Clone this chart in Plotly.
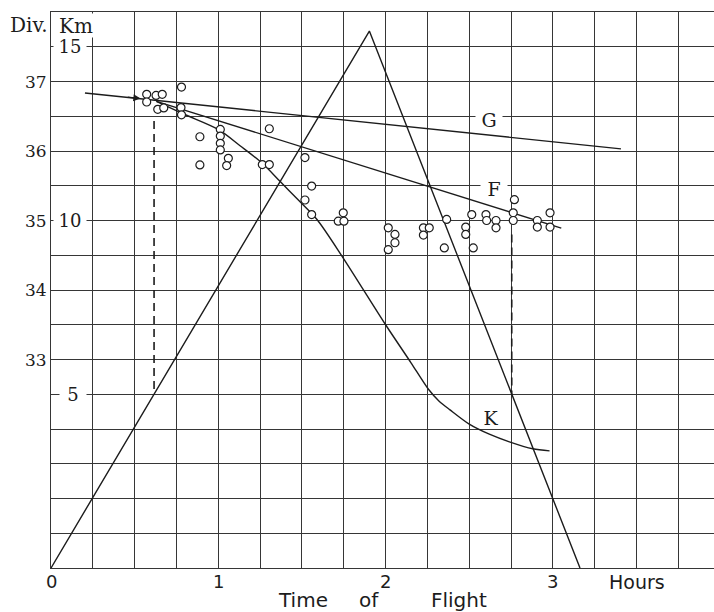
import plotly.graph_objects as go

# --- data -------------------------------------------------------------
# observed balloon readings: time of flight (hours) vs height (km)
obs_hours = [0.572, 0.572, 0.628, 0.665, 0.638, 0.674, 0.78, 0.777, 0.78, 0.89,
             0.89, 1.012, 1.012, 1.012, 1.012, 1.06, 1.05, 1.263, 1.305, 1.305,
             1.518, 1.558, 1.518, 1.558, 1.747, 1.717, 1.751, 2.016, 2.056, 2.056,
             2.016, 2.226, 2.261, 2.226, 2.365, 2.351, 2.479, 2.479, 2.524, 2.515,
             2.60, 2.604, 2.66, 2.66, 2.77, 2.763, 2.763, 2.907, 2.907, 2.983, 2.983]
obs_km = [13.63, 13.41, 13.60, 13.63, 13.20, 13.24, 13.84, 13.25, 13.04, 12.41,
          11.60, 12.62, 12.43, 12.22, 12.03, 11.79, 11.58, 11.61, 12.64, 11.61,
          11.81, 10.99, 10.59, 10.17, 10.22, 9.98, 9.98, 9.79, 9.60, 9.36,
          9.16, 9.79, 9.79, 9.58, 10.03, 9.21, 9.81, 9.60, 9.21, 10.17,
          10.17, 10.00, 10.00, 9.79, 10.60, 10.22, 10.00, 10.00, 9.81, 10.22, 9.81]

# ascent / descent of the balloon
flight_hours = [0.0, 1.903, 3.162]
flight_km = [0.0, 15.45, 0.0]

# curve G
g_hours = [0.203, 3.407]
g_km = [13.67, 12.06]

# curve F
f_hours = [0.63, 3.05]
f_km = [13.43, 9.78]

# curve K
k_hours = [0.63, 0.80, 1.00, 1.13, 1.26, 1.37, 1.48, 1.59, 1.74, 2.00, 2.15,
           2.255, 2.32, 2.385, 2.50, 2.62, 2.74, 2.88, 2.98]
k_km = [13.43, 13.05, 12.62, 12.15, 11.66, 11.12, 10.58, 10.03, 8.97, 7.00, 5.92,
        5.15, 4.80, 4.55, 4.14, 3.85, 3.63, 3.43, 3.37]

# dashed drop lines to the 5 km level
drop1_hours = [0.616, 0.616]
drop1_km = [12.86, 5.0]
drop2_hours = [2.754, 2.754]
drop2_km = [9.60, 5.0]

# axis labels
div_labels = [33, 34, 35, 36, 37]     # barometer divisions
km_labels = [5, 10, 15]
hour_labels = [0, 1, 2, 3]

INK = "#1c1c1c"
GRID = "#363636"
SERIF = "DejaVu Serif"
SANS = "DejaVu Sans"

X_MAX = 3.963
Y_MAX = 16.0


def div_to_km(d):
    # 35 divisions sits at 10 km; one division spans 2 km
    return 10 + 2 * (d - 35)


def hour_to_paper(h):
    return h / X_MAX


fig = go.Figure()

line_style = dict(color=INK, width=1.4)
for xs, ys in [(flight_hours, flight_km), (g_hours, g_km), (f_hours, f_km)]:
    fig.add_trace(go.Scatter(x=xs, y=ys, mode="lines", line=line_style,
                             hoverinfo="skip", showlegend=False))

fig.add_trace(go.Scatter(x=k_hours, y=k_km, mode="lines",
                         line=dict(color=INK, width=1.4, shape="spline", smoothing=0.8),
                         hoverinfo="skip", showlegend=False))

for xs, ys in [(drop1_hours, drop1_km), (drop2_hours, drop2_km)]:
    fig.add_trace(go.Scatter(x=xs, y=ys, mode="lines",
                             line=dict(color=INK, width=1.6, dash="8px,5px"),
                             hoverinfo="skip", showlegend=False))

fig.add_trace(go.Scatter(x=obs_hours, y=obs_km, mode="markers",
                         marker=dict(symbol="circle", size=8, color="white",
                                     line=dict(color=INK, width=1.2)),
                         hoverinfo="skip", showlegend=False))

ann = []

# arrow head on G pointing at the first readings
ann.append(dict(x=0.535, y=13.51, ax=0.45, ay=13.555, xref="x", yref="y",
                axref="x", ayref="y", showarrow=True, arrowhead=2,
                arrowsize=1.1, arrowwidth=1.3, arrowcolor=INK, text=""))

# curve names
for name, x, y, bg in [("G", 2.618, 12.9, "white"), ("F", 2.647, 10.9, "white"),
                       ("K", 2.63, 4.32, "rgba(0,0,0,0)")]:
    ann.append(dict(x=x, y=y, xref="x", yref="y", text=name, showarrow=False,
                    font=dict(family=SERIF, size=19, color=INK),
                    bgcolor=bg, width=24, xanchor="center", yanchor="middle"))

# barometer divisions on the far left
for d in div_labels:
    ann.append(dict(x=-0.0226, y=div_to_km(d), xref="paper", yref="y", text=str(d),
                    showarrow=False, xanchor="center", yanchor="middle",
                    font=dict(family=SERIF, size=17, color=INK)))

# km marks written just inside the frame
for k in km_labels:
    if k == 5:
        ann.append(dict(x=hour_to_paper(0.048), y=k, xref="paper", yref="y",
                        text=str(k), showarrow=False, xanchor="left",
                        yanchor="middle", width=24, bgcolor="white",
                        font=dict(family=SERIF, size=18, color=INK)))
    else:
        ann.append(dict(x=hour_to_paper(0.012), y=k, xref="paper", yref="y",
                        text=str(k), showarrow=False, xanchor="left",
                        yanchor="middle", width=30, bgcolor="white",
                        font=dict(family=SERIF, size=18, color=INK)))

# header "Div. Km"
ann.append(dict(x=-0.002, y=15.62, xref="paper", yref="y", text="Div.",
                showarrow=False, xanchor="right", yanchor="middle",
                font=dict(family=SERIF, size=20, color=INK)))
ann.append(dict(x=hour_to_paper(0.03), y=15.62, xref="paper", yref="y", text="Km",
                showarrow=False, xanchor="left", yanchor="middle",
                width=36, height=21, bgcolor="white",
                font=dict(family=SERIF, size=20, color=INK)))

# hour marks and axis title below the frame
for h in hour_labels:
    ann.append(dict(x=h, y=-0.025, xref="x", yref="paper", text=str(h),
                    showarrow=False, xanchor="center", yanchor="middle",
                    font=dict(family=SANS, size=18, color=INK)))
ann.append(dict(x=3.5, y=-0.025, xref="x", yref="paper", text="Hours",
                showarrow=False, xanchor="center", yanchor="middle",
                font=dict(family=SANS, size=19, color=INK)))
for word, x in [("Time", 1.506), ("of", 1.90), ("Flight", 2.44)]:
    ann.append(dict(x=x, y=-0.057, xref="x", yref="paper", text=word,
                    showarrow=False, xanchor="center", yanchor="middle",
                    font=dict(family=SANS, size=20, color=INK)))

fig.update_layout(
    width=714, height=612,
    margin=dict(l=51, r=0, t=12, b=44),
    paper_bgcolor="white", plot_bgcolor="white",
    showlegend=False,
    annotations=ann,
    xaxis=dict(range=[0, X_MAX], tick0=0, dtick=0.25, showgrid=True,
               gridcolor=GRID, gridwidth=1.3, zeroline=False,
               showticklabels=False, ticks="", showline=True, mirror=True,
               linecolor=GRID, linewidth=1.3, fixedrange=True),
    yaxis=dict(range=[0, Y_MAX], tick0=0, dtick=1, showgrid=True,
               gridcolor=GRID, gridwidth=1.3, zeroline=False,
               showticklabels=False, ticks="", showline=True, mirror=False,
               linecolor=GRID, linewidth=1.3, fixedrange=True),
)

fig.write_html("out.html")
